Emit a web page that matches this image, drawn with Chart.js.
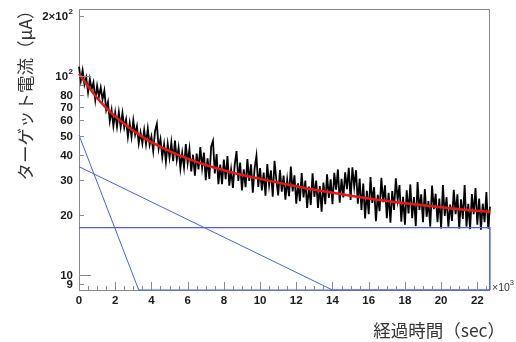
<!DOCTYPE html>
<html>
<head>
<meta charset="utf-8">
<script src="https://cdn.jsdelivr.net/npm/chart.js@4.4.1/dist/chart.umd.min.js"></script>
<style>
  html, body { margin: 0; padding: 0; background: #fff; }
</style>
</head>
<body>
<canvas id="chart" width="516" height="342"></canvas>
<script>
// measured target current, one reading every 100 s
var sampleStepSec = 100;
var currentUA = [
  111.3, 94.4, 106.7, 90.5, 98.1, 82.8, 96.5, 85.8, 92.8, 75.8, 89.1, 78.6, 87.4, 76.2, 84.4, 67.7, 74.0, 59.4, 67.4, 56.1, 65.5,
  55.7, 65.8, 55.4, 65.1, 55.0, 60.5, 49.4, 57.9, 49.4, 59.7, 50.8, 55.8, 45.8, 52.1, 45.8, 53.5, 45.4, 54.3, 45.0, 49.6,
  42.0, 53.0, 57.5, 43.1, 48.1, 39.1, 45.4, 37.1, 45.6, 38.8,
  46.3, 37.3, 47.3, 37.9, 43.5, 34.3, 41.0, 34.8, 45.4, 36.5, 43.0, 33.1, 40.2, 31.5, 40.7, 33.9, 43.9, 34.5, 41.2, 29.9,
  38.6, 30.4, 44.3, 47.2, 32.4, 40.5, 28.6, 35.9, 28.6, 38.0, 30.3, 39.6, 28.1, 33.8, 27.4, 35.8, 41.9, 29.7, 36.7, 26.6,
  33.9, 27.6, 38.2, 29.7, 36.0, 25.9, 34.4, 39.7, 27.7, 34.4,
  26.6, 32.7, 25.0, 36.1, 28.3, 33.5, 24.7, 37.5, 30.0, 25.1, 33.7, 26.2, 31.6, 23.9, 30.1, 24.9, 35.0, 26.3, 31.7, 22.8,
  28.9, 23.5, 32.5, 24.5, 29.8, 21.7, 27.8, 22.5, 32.4, 24.7, 29.8, 21.7, 28.0, 20.8, 29.1, 22.7, 32.0, 24.4, 30.2, 22.7,
  32.6, 26.8, 33.9, 23.1, 30.4, 24.5, 32.8, 27.0, 34.5, 23.8,
  34.7, 27.8, 33.6, 22.8, 30.5, 21.2, 28.8, 19.2, 26.5, 20.2, 31.0, 23.0, 27.6, 18.6, 25.3, 20.9, 30.8, 23.2, 28.2, 19.3,
  25.9, 18.3, 26.4, 21.2, 30.6, 23.8, 28.3, 18.5, 24.7, 17.9, 26.6, 20.4, 28.5, 19.3, 24.6, 17.6, 29.3, 21.2, 25.4, 18.4,
  27.0, 19.6, 23.5, 17.5, 28.1, 21.4, 25.6, 18.4, 24.2, 17.1, 28.3, 19.8, 24.6, 17.5, 22.6, 18.7, 26.8, 20.2, 25.4, 17.1,
  24.0, 19.1, 28.3, 17.5, 22.8, 17.0, 25.5, 20.2, 27.3, 17.9, 24.2, 16.9, 22.8, 18.4, 26.1, 17.1, 22.0
];
var elapsedSec = currentUA.map(function(v, i) { return i * sampleStepSec; });

// fit curve (red)
var fitTimeSec = [0, 500, 1000, 1500, 2000, 2500, 3000, 3500, 4000, 5000, 6000, 7000, 8000, 9000, 10000,
  11000, 12000, 13000, 14000, 15000, 16000, 17000, 18000, 19000, 20000, 21000, 22000, 22700];
var fitUA = [102.5, 88.8, 77.5, 69.2, 62.6, 57.4, 53.1, 49.4, 46.5, 41.9, 38.4, 35.7, 33.6, 31.8, 30.4,
  29.1, 27.9, 26.8, 25.9, 25.0, 24.2, 23.5, 22.9, 22.4, 21.9, 21.4, 21.0, 20.8];

// fit components (blue), clipped at the bottom of the frame
var fastTimeSec = [0, 3300, 22700];
var fastUA = [50.4, 8.4, 8.4];
var slowTimeSec = [0, 14000, 22700];
var slowUA = [35.0, 8.4, 8.4];
var constTimeSec = [0, 22700, 22700];
var constUA = [17.3, 17.3, 8.4];

// axes
var xMin = 0, xMax = 22700;
var yMin = 8.4, yMax = 217;
var xTickValues = [0, 2000, 4000, 6000, 8000, 10000, 12000, 14000, 16000, 18000, 20000, 22000];
var xTickLabels = ['0', '2', '4', '6', '8', '10', '12', '14', '16', '18', '20', '22'];
var yTickValues = [9, 10, 20, 30, 40, 50, 60, 70, 80, 90, 100, 200];
var yTickLabels = ['9', '10', '20', '30', '40', '50', '60', '70', '80', '', '10^2', '2×10^2'];

function pts(xs, ys) {
	return ys.map(function(y, i) { return { x: xs[i], y: y }; });
}

var LABEL_FONT = 'bold 11.5px "Liberation Sans", Arial, sans-serif';
var TITLE_FONT = '17.5px "Noto Sans CJK JP", sans-serif';
var BLUE = '#4a5fe6';

function drawLabel(ctx, text, rightX, y) {
	// "a^b" -> base with superscript exponent, right aligned
	var parts = text.split('^');
	ctx.textBaseline = 'middle';
	if (parts.length === 1) {
		ctx.font = LABEL_FONT;
		ctx.textAlign = 'right';
		ctx.fillText(text, rightX, y);
		return;
	}
	ctx.font = 'bold 8px "Liberation Sans", Arial, sans-serif';
	var ew = ctx.measureText(parts[1]).width;
	ctx.textAlign = 'left';
	ctx.fillText(parts[1], rightX - ew, y - 5);
	ctx.font = LABEL_FONT;
	ctx.textAlign = 'right';
	ctx.fillText(parts[0], rightX - ew - 0.5, y);
}

var rootFrame = {
	id: 'rootFrame',
	beforeDatasetsDraw: function(chart) {
		var a = chart.chartArea, ctx = chart.ctx;
		ctx.save();
		ctx.strokeStyle = '#8a8a8a';
		ctx.lineWidth = 1;
		ctx.strokeRect(a.left + 0.5, a.top + 0.5, a.right - a.left - 1, a.bottom - a.top);
		ctx.restore();
	},
	afterDraw: function(chart) {
		var a = chart.chartArea, ctx = chart.ctx;
		var xs = chart.scales.x, ys = chart.scales.y;
		ctx.save();
		ctx.strokeStyle = '#8a8a8a';
		ctx.lineWidth = 1;

		// x ticks, minor every 500 s
		ctx.beginPath();
		for (var t = 0; t <= xMax; t += 500) {
			var px = Math.round(xs.getPixelForValue(t)) + 0.5;
			var len = (t % 2000 === 0) ? 8 : 4;
			ctx.moveTo(px, a.bottom);
			ctx.lineTo(px, a.bottom - len);
		}
		// y ticks
		yTickValues.forEach(function(v) {
			var py = Math.round(ys.getPixelForValue(v)) + 0.5;
			var len = (v === 10 || v === 100) ? 12 : 5;
			ctx.moveTo(a.left, py);
			ctx.lineTo(a.left + len, py);
		});
		ctx.stroke();

		ctx.fillStyle = '#1a1a1a';
		ctx.font = LABEL_FONT;
		ctx.textAlign = 'center';
		ctx.textBaseline = 'middle';
		xTickValues.forEach(function(v, i) {
			ctx.fillText(xTickLabels[i], xs.getPixelForValue(v), a.bottom + 11);
		});
		yTickValues.forEach(function(v, i) {
			if (!yTickLabels[i]) return;
			drawLabel(ctx, yTickLabels[i], a.left - 6, ys.getPixelForValue(v) + 1);
		});

		// x10^3 exponent marker
		ctx.fillStyle = '#333';
		ctx.font = '10.5px "Liberation Sans", Arial, sans-serif';
		ctx.textAlign = 'left';
		ctx.fillText('×10', a.right + 2, a.bottom - 2);
		var w = ctx.measureText('×10').width;
		ctx.font = '7.5px "Liberation Sans", Arial, sans-serif';
		ctx.fillText('3', a.right + 2 + w, a.bottom - 7);

		// axis titles
		ctx.fillStyle = '#333';
		ctx.font = TITLE_FONT;
		ctx.textAlign = 'right';
		ctx.fillText('経過時間（sec）', 505, 330);
		ctx.translate(25, 0);
		ctx.rotate(-Math.PI / 2);
		ctx.textAlign = 'center';
		ctx.fillText('ターゲット電流（μA）', -91, 0);
		ctx.restore();
	}
};

new Chart(document.getElementById('chart'), {
	type: 'line',
	data: {
		datasets: [
			{ data: pts(fitTimeSec, fitUA), borderColor: '#ee1515', borderWidth: 2.5, cubicInterpolationMode: 'monotone', order: 0 },
			{ data: pts(fastTimeSec, fastUA), borderColor: BLUE, borderWidth: 1, order: 1 },
			{ data: pts(slowTimeSec, slowUA), borderColor: BLUE, borderWidth: 1, order: 1 },
			{ data: pts(constTimeSec, constUA), borderColor: BLUE, borderWidth: 1.2, order: 1 },
			{ data: pts(elapsedSec, currentUA), borderColor: '#000', borderWidth: 1.8, order: 2 }
		]
	},
	options: {
		responsive: false,
		animation: false,
		events: [],
		clip: 3,
		layout: { padding: { left: 0, right: 26, top: 9, bottom: 0 } },
		elements: { point: { radius: 0 }, line: { tension: 0, fill: false } },
		plugins: { legend: { display: false }, tooltip: { enabled: false } },
		scales: {
			x: {
				type: 'linear', min: xMin, max: xMax,
				grid: { display: false }, border: { display: false },
				ticks: { display: false },
				afterFit: function(s) { s.height = 52; }
			},
			y: {
				type: 'logarithmic', min: yMin, max: yMax,
				grid: { display: false }, border: { display: false },
				ticks: { display: false },
				afterFit: function(s) { s.width = 79; }
			}
		}
	},
	plugins: [rootFrame]
});
</script>
</body>
</html>
